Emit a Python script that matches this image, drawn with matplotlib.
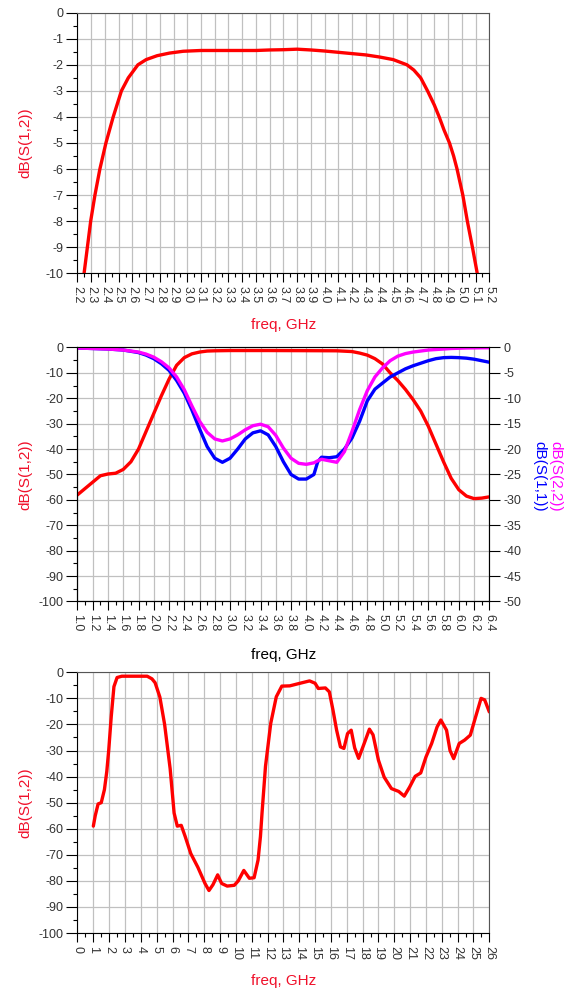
import matplotlib.pyplot as plt
from matplotlib.ticker import MultipleLocator, FormatStrFormatter

plt.rcParams['font.family'] = ['Liberation Sans', 'DejaVu Sans']

RED = '#ff0000'
BLUE = '#0000ff'
MAGENTA = '#ff00ff'
LABEL_RED = '#f0102a'

# top panel: dB(S(1,2)) 2.2 - 5.2 GHz
top_freq = [2.248, 2.272, 2.296, 2.327, 2.363, 2.407, 2.46, 2.52, 2.57, 2.64, 2.70,
            2.78, 2.87, 2.97, 3.1, 3.3, 3.5, 3.6, 3.7, 3.8, 3.9, 4.0, 4.1, 4.2, 4.3,
            4.4, 4.5, 4.6, 4.65, 4.70, 4.75, 4.80, 4.835, 4.87, 4.91, 4.94, 4.965,
            5.007, 5.04, 5.077, 5.112]
top_s12 = [-10, -9, -8, -7, -6, -5, -4, -3, -2.5, -2, -1.8,
           -1.65, -1.55, -1.48, -1.45, -1.45, -1.45, -1.43, -1.42, -1.4, -1.43, -1.47, -1.52, -1.57, -1.62,
           -1.7, -1.8, -2.0, -2.2, -2.5, -3.0, -3.55, -4.0, -4.5, -5.0, -5.5, -6.0,
           -7.0, -8.0, -9.0, -10.0]

# middle panel: S12 on left axis, S11 / S22 on right axis
mid_freq_s12 = [1.0, 1.1, 1.2, 1.3, 1.4, 1.5, 1.6, 1.7, 1.8, 1.9, 2.0, 2.1, 2.2, 2.3, 2.4,
                2.5, 2.6, 2.7, 2.8, 3.0, 3.5, 4.0, 4.4, 4.6, 4.7, 4.8, 4.9, 5.0, 5.1,
                5.2, 5.3, 5.4, 5.5, 5.6, 5.7, 5.8, 5.9, 6.0, 6.1, 6.2, 6.3, 6.4]
mid_s12 = [-58, -55.5, -53, -50.5, -49.8, -49.5, -48, -45, -40, -33, -26, -19, -12.5, -7, -4,
           -2.5, -1.8, -1.4, -1.3, -1.2, -1.2, -1.25, -1.3, -1.6, -2.2, -3.0, -4.4, -6.5, -10,
           -13, -16.5, -20.5, -25, -31, -38, -45, -51.5, -56, -58.5, -59.5, -59.3, -58.8]

mid_freq = [1.0, 1.4, 1.6, 1.8, 1.9, 2.0, 2.1, 2.2, 2.3, 2.4, 2.5, 2.6, 2.7, 2.8, 2.9,
            3.0, 3.1, 3.2, 3.3, 3.4, 3.5, 3.6, 3.7, 3.8, 3.9, 4.0, 4.1, 4.15, 4.2, 4.3,
            4.4, 4.5, 4.6, 4.7, 4.8, 4.9, 5.0, 5.1, 5.2, 5.3, 5.4, 5.5, 5.6, 5.7,
            5.8, 5.9, 6.0, 6.1, 6.2, 6.3, 6.4]
mid_s11 = [-0.1, -0.3, -0.5, -1.0, -1.5, -2.2, -3.2, -4.5, -6.5, -9, -12.3, -16, -19.5, -21.8, -22.6,
           -21.8, -20, -18, -16.8, -16.4, -17.2, -19.5, -22.5, -25, -25.9, -25.9, -25, -22.5, -21.6, -21.7,
           -21.5, -20, -17.8, -14.5, -10.5, -8.2, -7, -5.8, -5, -4.2, -3.6, -3.1, -2.6, -2.2,
           -2.0, -1.95, -2.0, -2.1, -2.3, -2.6, -2.9]
mid_s22 = [-0.1, -0.3, -0.5, -0.9, -1.3, -1.9, -2.8, -4.0, -5.8, -8.3, -11.5, -14.5, -16.7, -18.0, -18.4,
           -18.0, -17.2, -16.2, -15.4, -15.1, -15.6, -17.3, -19.8, -21.8, -22.8, -23.0, -22.7, -22.3, -22.0, -22.3,
           -22.6, -20.5, -16.5, -12.2, -8.5, -5.8, -4.0, -2.6, -1.7, -1.2, -0.9, -0.7, -0.5, -0.4,
           -0.3, -0.2, -0.15, -0.1, -0.08, -0.06, -0.05]

# bottom panel: wideband dB(S(1,2)) 0 - 26 GHz
bot_freq = [1.0, 1.12, 1.3, 1.5, 1.7, 1.85, 1.97, 2.13, 2.3, 2.5, 2.8, 4.4, 4.7, 4.9, 5.2,
            5.5, 5.85, 6.1, 6.3, 6.55, 6.8, 7.15, 7.6, 8.05, 8.3, 8.55, 8.85, 9.1, 9.45,
            9.9, 10.15, 10.5, 10.85, 11.15, 11.4, 11.55, 11.65, 11.87, 12.2, 12.55, 12.9,
            13.4, 14.05, 14.65, 15.0, 15.2, 15.65, 15.9, 16.13, 16.36, 16.6, 16.82, 17.05,
            17.28, 17.5, 17.75, 18.1, 18.43, 18.66, 19.0, 19.36, 19.82, 20.28, 20.63, 20.97,
            21.32, 21.67, 22.0, 22.36, 22.7, 22.94, 23.3, 23.52, 23.75, 24.1, 24.44, 24.8,
            25.14, 25.48, 25.71, 26.0]
bot_s12 = [-59, -55, -50.5, -50, -45, -38, -30, -17, -5.5, -2, -1.5, -1.5, -2.5, -4, -9.5,
           -20, -37, -54, -59, -58.7, -63, -69.5, -74.8, -81, -83.7, -81.5, -77.7, -81, -82,
           -81.7, -80, -76, -79, -78.8, -72, -63, -54, -36, -19.6, -9.4, -5.3,
           -5.2, -4.2, -3.3, -4.2, -6.2, -6.0, -7.5, -14.5, -22.2, -28.6, -29.2, -23.5,
           -22.2, -29, -33, -27.3, -21.8, -24, -33.7, -40.2, -44.6, -45.7, -47.5, -44,
           -39.9, -38.6, -32.5, -27.3, -21, -18.3, -22.2, -30, -33.1, -27.3, -26, -24.1,
           -17, -10, -10.6, -15.2]

TICK_FS = 9
LABEL_FS = 11


def style_axes(ax, xlim, xmaj, xmin, xfmt, ylim, ymaj, ymin):
    ax.set_xlim(*xlim)
    ax.set_ylim(*ylim)
    ax.xaxis.set_major_locator(MultipleLocator(xmaj))
    ax.xaxis.set_minor_locator(MultipleLocator(xmin))
    ax.xaxis.set_major_formatter(FormatStrFormatter(xfmt))
    ax.yaxis.set_major_locator(MultipleLocator(ymaj))
    ax.yaxis.set_minor_locator(MultipleLocator(ymin))
    ax.yaxis.set_major_formatter(FormatStrFormatter('%g'))
    ax.grid(True, which='major', color='#c0c0c0', lw=0.9)
    ax.set_axisbelow(True)
    for side in ['top', 'right']:
        ax.spines[side].set_color('#555555')
    for side in ['left', 'bottom']:
        ax.spines[side].set_color('black')
    ax.tick_params(axis='x', which='major', length=6.5, width=0.8, pad=2.5,
                   labelsize=TICK_FS, labelcolor='#333333', labelrotation=-90)
    ax.tick_params(axis='x', which='minor', length=3, width=0.8)
    ax.tick_params(axis='y', which='major', length=8, width=0.8, pad=2,
                   labelsize=TICK_FS, labelcolor='#333333')
    ax.tick_params(axis='y', which='minor', length=3, width=0.8)


fig = plt.figure(figsize=(5.73, 9.89), dpi=100)

left, width = 0.13525, 0.7187
ax1 = fig.add_axes([left, 0.72366, width, 0.26350])
ax2 = fig.add_axes([left, 0.39181, width, 0.25683])
ax3 = fig.add_axes([left, 0.05662, width, 0.26360])

line_kw = dict(lw=2.4, solid_joinstyle='round', solid_capstyle='round')

# top
ax1.plot(top_freq, top_s12, color=RED, **line_kw)
style_axes(ax1, (2.2, 5.2), 0.1, 0.05, '%.1f', (-10, 0), 1, 0.5)

# middle
ax2.plot(mid_freq_s12, mid_s12, color=RED, **line_kw)
style_axes(ax2, (1.0, 6.4), 0.2, 0.1, '%.1f', (-100, 0), 10, 5)
ax2r = ax2.twinx()
ax2r.plot(mid_freq, mid_s11, color=BLUE, **line_kw)
ax2r.plot(mid_freq, mid_s22, color=MAGENTA, **line_kw)
ax2r.set_ylim(-50, 0)
ax2r.yaxis.set_major_locator(MultipleLocator(5))
ax2r.yaxis.set_major_formatter(FormatStrFormatter('%g'))
ax2r.spines['right'].set_color('black')
ax2r.tick_params(axis='y', which='major', length=8, width=0.8, pad=2,
                 labelsize=TICK_FS, labelcolor='#333333')

# bottom
ax3.plot(bot_freq, bot_s12, color=RED, **line_kw)
style_axes(ax3, (0, 26), 1, 0.5, '%d', (-100, 0), 10, 5)

# axis titles
xc = (77.5 + 489.3) / 2 / 573
fig.text(xc, 1 - 325 / 989, 'freq, GHz', color=LABEL_RED, fontsize=LABEL_FS, ha='center', va='center')
fig.text(xc, 1 - 655 / 989, 'freq, GHz', color='black', fontsize=LABEL_FS, ha='center', va='center')
fig.text(xc, 1 - 981 / 989, 'freq, GHz', color=LABEL_RED, fontsize=LABEL_FS, ha='center', va='center')

for yc in [143, 474.5, 802.5]:
    fig.text(25 / 573, 1 - yc / 989, 'dB(S(1,2))', color=LABEL_RED, fontsize=LABEL_FS,
             rotation=90, ha='center', va='center')

fig.text(555 / 573, 1 - 476.7 / 989, 'dB(S(2,2))', color=MAGENTA, fontsize=LABEL_FS,
         rotation=-90, ha='center', va='center')
fig.text(539 / 573, 1 - 476.7 / 989, 'dB(S(1,1))', color=BLUE, fontsize=LABEL_FS,
         rotation=-90, ha='center', va='center')

fig.savefig('out.png', dpi=100)
